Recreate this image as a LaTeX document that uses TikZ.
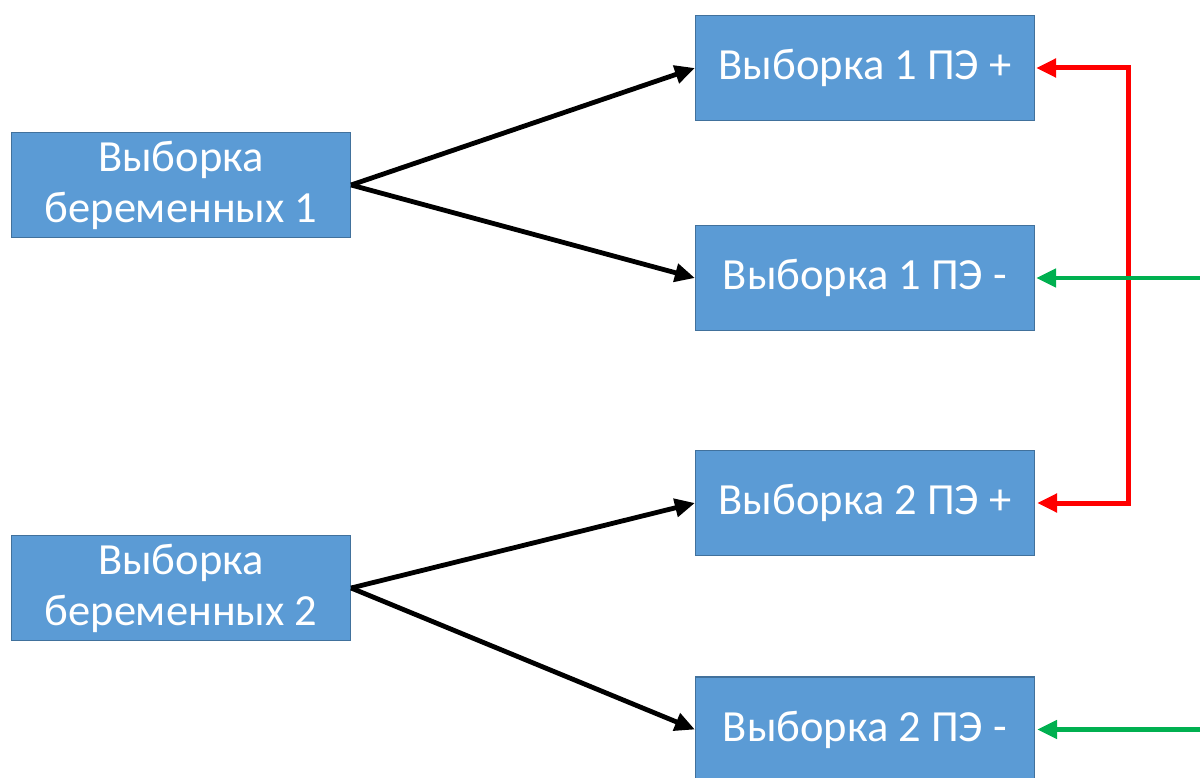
\documentclass[tikz,border=0pt]{standalone}
\usepackage{fontspec}
\setmainfont{Carlito}
\usetikzlibrary{arrows.meta}
\definecolor{boxfill}{HTML}{5B9BD5}
\definecolor{boxline}{HTML}{41719C}
\definecolor{redline}{HTML}{FF0000}
\definecolor{greenline}{HTML}{00B050}
\begin{document}
\begin{tikzpicture}[x=1pt,y=-1pt,
  sbox/.style={draw=boxline, line width=1.2pt, fill=boxfill, text=white,
    minimum width=339pt, minimum height=105pt, inner sep=0pt, align=center,
    font=\fontsize{44.5}{51}\selectfont},
  blk/.style={draw=black, line width=4.8pt, -{Triangle[length=20pt,width=18pt]}},
  redc/.style={draw=redline, line width=5pt, -{Triangle[length=20pt,width=18pt]}},
  grnc/.style={draw=greenline, line width=4.5pt, -{Triangle[length=20pt,width=18pt]}}
]
\useasboundingbox (0,0) rectangle (1200,778);
\begin{scope}
\clip (0,0) rectangle (1200,778);
\node[sbox] (l1) at (181,185) {Выборка\\беременных 1};
\node[sbox] (l2) at (181,588) {Выборка\\беременных 2};
\node[sbox] (r1) at (865,68) {Выборка 1 ПЭ +};
\node[sbox] (r2) at (865,278) {Выборка 1 ПЭ -};
\node[sbox] (r3) at (865,503) {Выборка 2 ПЭ +};
\node[sbox] (r4) at (865,729.5) {Выборка 2 ПЭ -};
\coordinate (g1) at (1205,278);
\coordinate (g2) at (1205,729.5);
\coordinate (rtop) at (1128,68);
\coordinate (rbot) at (1128,503);
\draw[blk] (l1.east) -- (r1.west);
\draw[blk] (l1.east) -- (r2.west);
\draw[blk] (l2.east) -- (r3.west);
\draw[blk] (l2.east) -- (r4.west);
\draw[redc] (rbot) -- (rtop) -- ([xshift=1pt]r1.east);
\draw[redc] (rtop) -- (rbot) -- ([xshift=2pt]r3.east);
\draw[grnc] (g1) -- ([xshift=1pt]r2.east);
\draw[grnc] (g2) -- ([xshift=2pt]r4.east);
\end{scope}
\end{tikzpicture}
\end{document}
